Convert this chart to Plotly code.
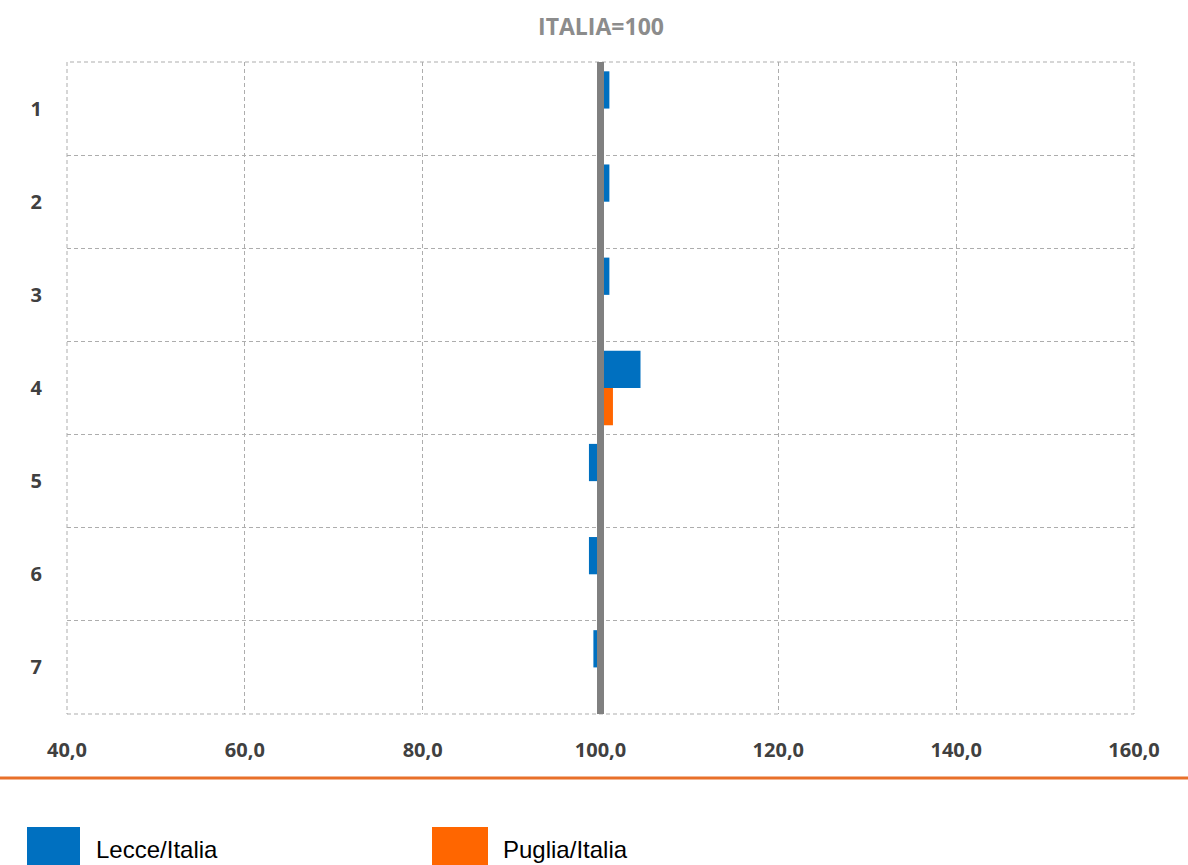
import plotly.graph_objects as go

categories = [1, 2, 3, 4, 5, 6, 7]
category_labels = ["1", "2", "3", "4", "5", "6", "7"]
lecce = [101.0, 101.0, 101.0, 104.5, 98.7, 98.7, 99.2]
puglia = [100.2, 100.2, 100.2, 101.4, 99.8, 99.8, 100.0]
base = 100
x_ticks = [40, 60, 80, 100, 120, 140, 160]
x_tick_labels = ["40,0", "60,0", "80,0", "100,0", "120,0", "140,0", "160,0"]

BLUE = "#0070C0"
ORANGE = "#FF6600"
GRID = "#ADADAD"

fig = go.Figure()
fig.add_trace(go.Bar(name="Lecce/Italia", y=categories, x=[v - base for v in lecce], base=base,
                     orientation="h", marker=dict(color=BLUE, line=dict(width=0))))
fig.add_trace(go.Bar(name="Puglia/Italia", y=categories, x=[v - base for v in puglia], base=base,
                     orientation="h", marker=dict(color=ORANGE, line=dict(width=0))))

fig.update_layout(
    width=1188, height=865,
    margin=dict(l=67, r=54, t=62, b=151),
    paper_bgcolor="white", plot_bgcolor="white",
    barmode="group", bargap=0.2, bargroupgap=0,
    showlegend=False,
    title=dict(text="<b>ITALIA=100</b>", x=601 / 1188, xanchor="center", y=1 - 27 / 865, yanchor="middle",
               font=dict(family="Open Sans", size=23, color="#8C8C8C")),
    xaxis=dict(range=[40, 160], tickvals=x_ticks, ticktext=x_tick_labels,
               showgrid=True, gridcolor=GRID, griddash="4px,3px", gridwidth=1,
               zeroline=False, showline=False, ticks="",
               ticklabelstandoff=22,
               tickfont=dict(family="Open Sans", size=20, color="#404040", weight="bold")),
    yaxis=dict(range=[7.5, 0.5], tickvals=categories, ticktext=category_labels,
               showgrid=False, zeroline=False, showline=False, ticks="",
               ticklabelstandoff=24,
               minor=dict(tick0=0.5, dtick=1, showgrid=True, gridcolor=GRID, griddash="4px,3px", gridwidth=1),
               tickfont=dict(family="Open Sans", size=20, color="#404040", weight="bold")),
)

# dashed border of plot area
fig.add_shape(type="rect", xref="paper", yref="paper", x0=0, x1=1, y0=0, y1=1,
              line=dict(color=GRID, width=1, dash="4px,3px"), layer="below")
# reference line at 100
fig.add_shape(type="line", xref="x", yref="paper", x0=base, x1=base, y0=0, y1=1,
              line=dict(color="#808080", width=7), layer="above")
# orange separator
fig.add_shape(type="line", xref="paper", yref="paper", x0=-67 / 1067, x1=(1188 - 67) / 1067,
              y0=-(778 - 714) / 652, y1=-(778 - 714) / 652,
              line=dict(color="#E8702A", width=3))

# legend
def px_x(p):
    return (p - 67) / 1067

def px_y(p):
    return (714 - p) / 652

fig.add_shape(type="rect", xref="paper", yref="paper", x0=px_x(27), x1=px_x(80), y0=px_y(870), y1=px_y(827),
              fillcolor=BLUE, line=dict(width=0))
fig.add_shape(type="rect", xref="paper", yref="paper", x0=px_x(432), x1=px_x(488), y0=px_y(870), y1=px_y(827),
              fillcolor=ORANGE, line=dict(width=0))
fig.add_annotation(text="Lecce/Italia", xref="paper", yref="paper", x=px_x(94), y=px_y(849),
                   xanchor="left", yanchor="middle", showarrow=False,
                   font=dict(family="Liberation Sans", size=24, color="black"))
fig.add_annotation(text="Puglia/Italia", xref="paper", yref="paper", x=px_x(501), y=px_y(849),
                   xanchor="left", yanchor="middle", showarrow=False,
                   font=dict(family="Liberation Sans", size=24, color="black"))

fig.write_html("out.html")
